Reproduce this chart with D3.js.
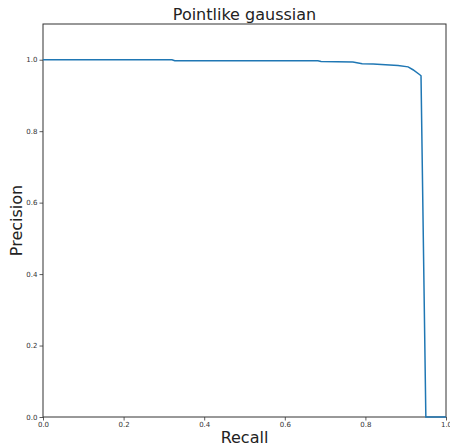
<!DOCTYPE html>
<html>
<head>
<meta charset="utf-8">
<script src="https://cdn.jsdelivr.net/npm/d3@7"></script>
<style>
  html, body { margin: 0; padding: 0; background: #fff; }
  svg { display: block; font-family: "DejaVu Sans", sans-serif; }
</style>
</head>
<body>
<svg id="chart" width="450" height="445"></svg>
<script>
// Precision-recall curve points
const recall = [0.0, 0.32, 0.327, 0.682, 0.69, 0.769, 0.792, 0.819, 0.881, 0.906, 0.918, 0.935, 0.938, 0.950, 1.0];
const precision = [1.0, 1.0, 0.997, 0.997, 0.995, 0.9936, 0.989, 0.988, 0.984, 0.980, 0.972, 0.958, 0.955, 0.0, 0.0];
const xTicks = [0.0, 0.2, 0.4, 0.6, 0.8, 1.0];
const yTicks = [0.0, 0.2, 0.4, 0.6, 0.8, 1.0];

const margin = { left: 43, right: 4, top: 24, bottom: 28 };
const W = 450, H = 445;
const svg = d3.select("#chart");

const x = d3.scaleLinear().domain([0, 1]).range([margin.left, W - margin.right]);
const y = d3.scaleLinear().domain([0, 1.1]).range([H - margin.bottom, margin.top]);

const fmt = d3.format(".1f");

const gx = svg.append("g")
  .attr("transform", `translate(0,${H - margin.bottom})`)
  .call(d3.axisBottom(x).tickValues(xTicks).tickFormat(fmt).tickSize(3.5).tickPadding(2));
const gy = svg.append("g")
  .attr("transform", `translate(${margin.left},0)`)
  .call(d3.axisLeft(y).tickValues(yTicks).tickFormat(fmt).tickSize(3.5).tickPadding(2));
[gx, gy].forEach(g => {
  g.select(".domain").remove();
  g.selectAll("line").attr("stroke", "#333").attr("stroke-width", 0.8);
  g.selectAll("text").attr("fill", "#333").style("font-size", "7px").style("font-family", "DejaVu Sans");
});

// frame
svg.append("rect")
  .attr("x", x(0)).attr("y", y(1.1))
  .attr("width", x(1) - x(0)).attr("height", y(0) - y(1.1))
  .attr("fill", "none").attr("stroke", "#333").attr("stroke-width", 1);

const pts = recall.map((r, i) => [r, precision[i]]);
svg.append("path")
  .datum(pts)
  .attr("fill", "none")
  .attr("stroke", "#1f77b4")
  .attr("stroke-width", 1.5)
  .attr("d", d3.line().x(d => x(d[0])).y(d => y(d[1])));

svg.append("text")
  .attr("x", (x(0) + x(1)) / 2).attr("y", 20)
  .attr("text-anchor", "middle")
  .style("font-size", "16px").attr("fill", "#222")
  .text("Pointlike gaussian");

svg.append("text")
  .attr("x", (x(0) + x(1)) / 2).attr("y", 443)
  .attr("text-anchor", "middle")
  .style("font-size", "16px").attr("fill", "#222")
  .text("Recall");

svg.append("text")
  .attr("transform", `translate(22,${(y(0) + y(1.1)) / 2}) rotate(-90)`)
  .attr("text-anchor", "middle")
  .style("font-size", "16px").attr("fill", "#222")
  .text("Precision");
</script>
</body>
</html>
